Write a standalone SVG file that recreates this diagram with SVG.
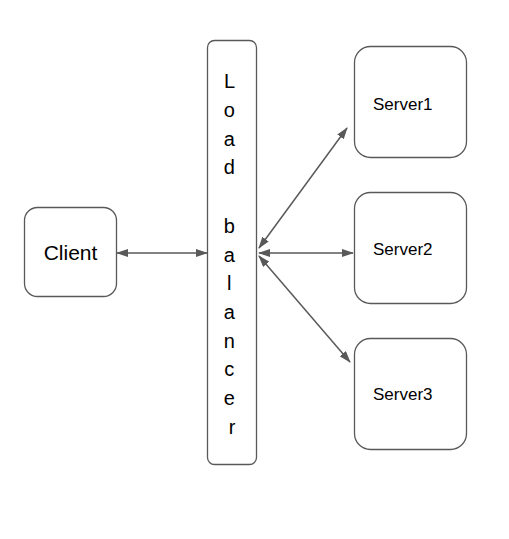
<svg xmlns="http://www.w3.org/2000/svg" width="509" height="539" viewBox="0 0 509 539">
<defs>
<marker id="arr" viewBox="0 0 12 8" refX="11" refY="4" markerWidth="12" markerHeight="8" markerUnits="userSpaceOnUse" orient="auto-start-reverse">
<path d="M0,0 L12,4 L0,8 Z" fill="#595959"/>
</marker>
</defs>
<style>
.box{fill:#fff;stroke:#595959;stroke-width:1.3}
.t{font-family:"Liberation Sans",Arial,sans-serif;fill:#000}
.c{stroke:#595959;stroke-width:1.5;fill:none;marker-start:url(#arr);marker-end:url(#arr)}
</style>
<rect width="509" height="539" fill="#fff"/>
<g id="client">
<rect class="box" x="24.5" y="207.5" width="92" height="89" rx="13"/>
<text class="t" x="70.5" y="260" font-size="21" text-anchor="middle">Client</text>
</g>
<g id="loadbalancer">
<rect class="box" x="207.5" y="40.5" width="49" height="424" rx="7"/>
<text class="t" font-size="20" text-anchor="middle">
<tspan x="232" y="88">L</tspan>
<tspan x="232" y="117">o</tspan>
<tspan x="232" y="146">a</tspan>
<tspan x="232" y="174">d</tspan>
<tspan x="232" y="233">b</tspan>
<tspan x="232" y="262">a</tspan>
<tspan x="232" y="290">l</tspan>
<tspan x="232" y="319">a</tspan>
<tspan x="232" y="348">n</tspan>
<tspan x="232" y="376">c</tspan>
<tspan x="232" y="405">e</tspan>
<tspan x="232" y="434">r</tspan>
</text>
</g>
<g id="server1">
<rect class="box" x="354.5" y="46.5" width="112" height="111" rx="16"/>
<text class="t" x="373" y="110" font-size="17">Server1</text>
</g>
<g id="server2">
<rect class="box" x="354.5" y="192.5" width="112" height="111" rx="16"/>
<text class="t" x="373" y="255" font-size="17">Server2</text>
</g>
<g id="server3">
<rect class="box" x="354.5" y="338.5" width="112" height="111" rx="16"/>
<text class="t" x="373" y="400" font-size="17">Server3</text>
</g>
<g id="connectors">
<line class="c" x1="117" y1="253" x2="207" y2="253"/>
<line class="c" x1="259" y1="253" x2="353" y2="253"/>
<line class="c" x1="259" y1="248" x2="347" y2="128"/>
<line class="c" x1="259" y1="256" x2="350" y2="362"/>
</g>
</svg>
